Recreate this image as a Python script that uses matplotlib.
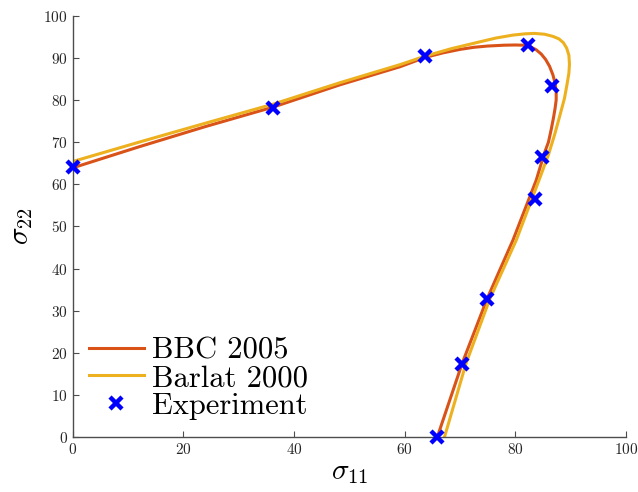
import matplotlib
matplotlib.use("Agg")
import matplotlib.pyplot as plt

plt.rcParams['font.family'] = 'serif'
plt.rcParams['font.serif'] = ['cmr10', 'DejaVu Serif']
plt.rcParams['mathtext.fontset'] = 'cm'
plt.rcParams['axes.unicode_minus'] = False
plt.rcParams['axes.formatter.use_mathtext'] = True

bbc_x = [0, 12, 24, 36.2, 48.3, 59.2, 63.7, 67, 70, 72.5, 75, 78, 80, 81.5, 82.8, 83.8,
         84.7, 85.5, 86.2, 86.8, 87.2, 87.4, 87.4, 87.2, 86.9, 86.5, 86.0, 85.3, 84.6,
         83.8, 79.6, 74.9, 70.4, 65.9]
bbc_y = [63.9, 68.9, 73.7, 78.3, 83.6, 87.9, 90.1, 91.2, 92.0, 92.5, 92.8, 93.0, 93.05, 93.0,
         92.6, 91.9, 90.9, 89.6, 88.0, 86.0, 84.0, 82.0, 80.0, 78.0, 75.7, 73.0, 70.0, 67.5,
         64.5, 61.0, 46.8, 32.8, 17.5, 0]

barlat_x = [0, 12, 24, 36.2, 48.3, 59.2, 63.7, 68.5, 73.6, 76.5, 79.6, 81.8, 83.5, 85.3,
            86.8, 87.9, 88.7, 89.3, 89.7, 89.8, 89.7, 89.4, 88.9, 88.0, 87.1, 86.0, 84.3,
            80.2, 75.4, 71.1, 67.2]
barlat_y = [65.4, 70.0, 74.5, 79.0, 84.1, 88.4, 90.4, 92.2, 93.8, 94.7, 95.4, 95.7, 95.8, 95.6,
            95.1, 94.5, 93.6, 92.3, 90.6, 88.5, 86.4, 84.0, 80.4, 76.0, 71.7, 67.0, 61.0,
            46.8, 32.8, 17.5, 0]

exp_x = [0, 36.2, 63.7, 82.3, 86.6, 84.9, 83.6, 74.9, 70.4, 65.9]
exp_y = [64.0, 78.1, 90.5, 93.0, 83.4, 66.5, 56.5, 32.8, 17.4, 0]

xticks = [0, 20, 40, 60, 80, 100]
yticks = [0, 10, 20, 30, 40, 50, 60, 70, 80, 90, 100]

fig = plt.figure(figsize=(6.38, 4.92), dpi=100)
ax = fig.add_axes([0.114, 0.1114, 0.867, 0.8567])

ax.plot(bbc_x, bbc_y, color='#D95319', lw=2.2, label='BBC 2005')
ax.plot(barlat_x, barlat_y, color='#EDB120', lw=2.2, label='Barlat 2000')
ax.plot(exp_x, exp_y, linestyle='none', marker='x', color='blue', ms=9, mew=3.2,
        label='Experiment', clip_on=False, zorder=5)

ax.set_xlim(0, 100)
ax.set_ylim(0, 100)
ax.set_xticks(xticks)
ax.set_yticks(yticks)
ax.tick_params(direction='in', length=4, width=0.8, colors='#4d4d4d',
               labelcolor='#262626', labelsize=11)
for s in ['top', 'right']:
    ax.spines[s].set_visible(False)
for s in ['left', 'bottom']:
    ax.spines[s].set_color('#4d4d4d')
    ax.spines[s].set_linewidth(1.0)

ax.set_xlabel(r'$\sigma_{11}$', fontsize=21, labelpad=2)
ax.set_ylabel(r'$\sigma_{22}$', fontsize=21, labelpad=6)

leg = ax.legend(loc='lower left', frameon=False, fontsize=22, handlelength=1.8,
                handletextpad=0.28, labelspacing=0.0, borderaxespad=0.0,
                borderpad=0.3, bbox_to_anchor=(0.012, 0.02))

fig.savefig('out.png', dpi=100)
